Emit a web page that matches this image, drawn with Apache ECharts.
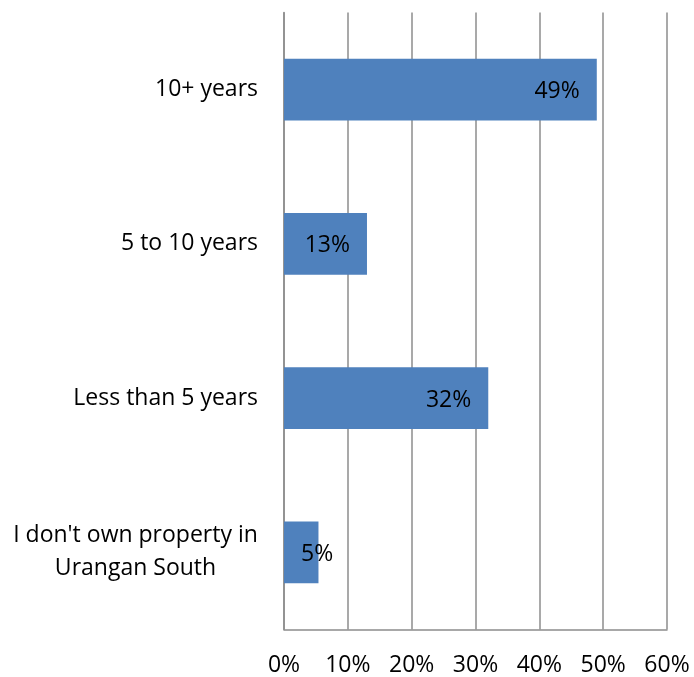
<!DOCTYPE html>
<html>
<head>
<meta charset="utf-8">
<script src="https://cdn.jsdelivr.net/npm/echarts@6/dist/echarts.min.js"></script>
<style>html,body{margin:0;padding:0;background:#fff}#c{width:694px;height:677px}</style>
</head>
<body>
<div id="c"></div>
<script>
var categories = ["I don't own property in\nUrangan South", "Less than 5 years", "5 to 10 years", "10+ years"];
var values = [5.4, 32, 13, 49];
var xTicks = [0, 10, 20, 30, 40, 50, 60];

var FONT = 'Open Sans';
var FS = 23;
var ctx = document.createElement('canvas').getContext('2d');
ctx.font = FS + 'px "' + FONT + '"';
function textW(s) { return Math.ceil(ctx.measureText(s).width); }
var multiW = 0;
categories.forEach(function (c) {
  if (c.indexOf('\n') >= 0) c.split('\n').forEach(function (l) { multiW = Math.max(multiW, textW(l)); });
});

var chart = echarts.init(document.getElementById('c'));
var dataItems = values.map(function (v) {
  return {
    value: v,
    label: { position: v < 10 ? 'insideLeft' : 'insideRight' }
  };
});
chart.setOption({
  animation: false,
  grid: { left: 284, right: 27, top: 12.5, bottom: 47.5, containLabel: false },
  xAxis: {
    type: 'value',
    min: xTicks[0],
    max: xTicks[xTicks.length - 1],
    interval: 10,
    axisLine: { show: true, lineStyle: { color: '#8c8c8c', width: 1.5 } },
    axisTick: { show: false },
    splitLine: { show: true, lineStyle: { color: '#8c8c8c', width: 1.5 } },
    axisLabel: {
      margin: 24,
      color: '#000',
      fontFamily: FONT,
      fontSize: FS,
      formatter: function (v) { return v + '%'; }
    }
  },
  yAxis: {
    type: 'category',
    data: categories,
    axisLine: { show: true, lineStyle: { color: '#8c8c8c', width: 1.5 } },
    axisTick: { show: false },
    axisLabel: {
      margin: 26,
      color: '#000',
      fontFamily: FONT,
      fontSize: FS,
      lineHeight: 33,
      align: 'right',
      formatter: function (v) {
        if (v.indexOf('\n') < 0) return v;
        return v.split('\n').map(function (l) { return '{m|' + l + '}'; }).join('\n');
      },
      rich: {
        m: { width: multiW, align: 'center', fontFamily: FONT, fontSize: FS, lineHeight: 33, color: '#000' }
      }
    }
  },
  series: [{
    type: 'bar',
    data: dataItems,
    barCategoryGap: '60%',
    itemStyle: { color: '#4F81BD' },
    label: {
      show: true,
      distance: 17,
      offset: [0, 2],
      color: '#000',
      fontFamily: FONT,
      fontSize: FS,
      formatter: function (p) { return Math.round(p.value) + '%'; }
    }
  }]
});
</script>
</body>
</html>
